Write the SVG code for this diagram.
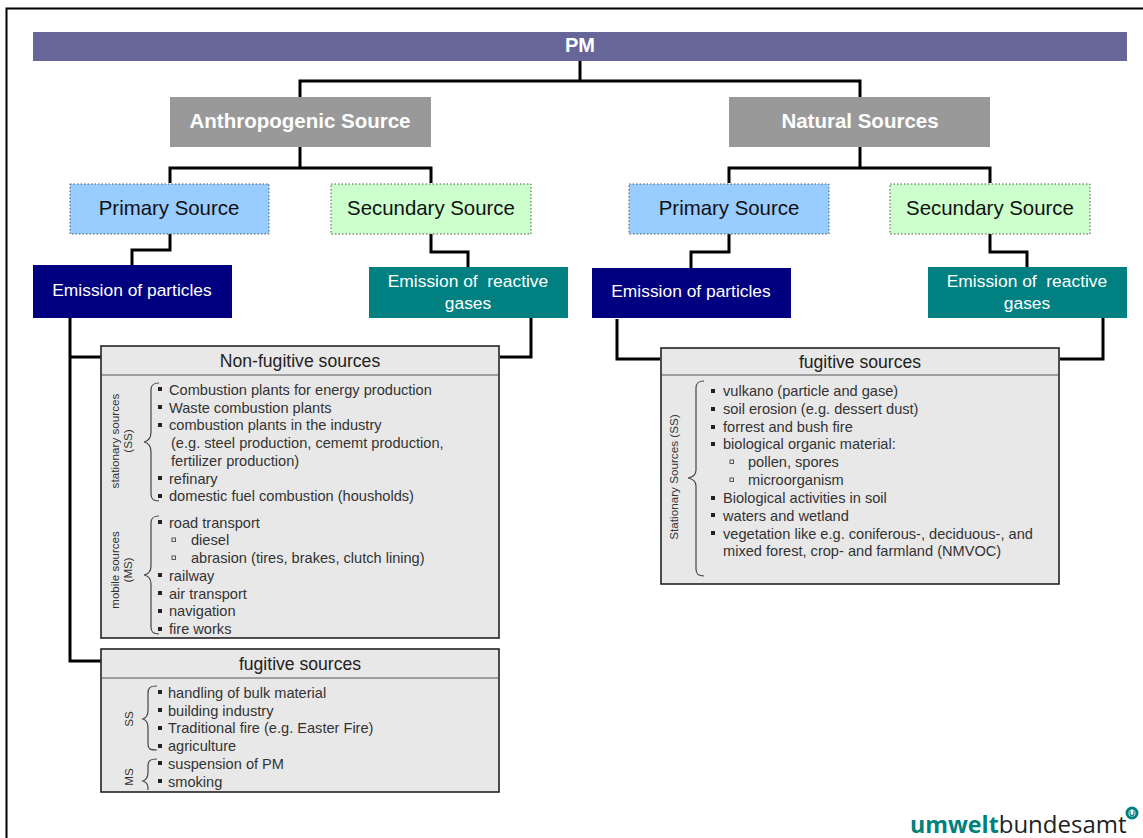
<svg xmlns="http://www.w3.org/2000/svg" width="1143" height="838" viewBox="0 0 1143 838">
<style>
text{font-family:"Liberation Sans",Arial,sans-serif}
.c{fill:none;stroke:#000;stroke-width:3}
.box{fill:#e8e8e8;stroke:#222;stroke-width:1.6}
.sep{stroke:#555;stroke-width:1.2}
.h{font-size:17.6px;fill:#222;text-anchor:middle}
.t{font-size:14.6px;fill:#333}
.r{font-size:11.7px;fill:#333;text-anchor:middle}
.b{fill:#222}
.o{fill:none;stroke:#555;stroke-width:1}
.br{fill:none;stroke:#444;stroke-width:1.2}
.w{fill:#fff;text-anchor:middle}
.src{font-size:20.4px;fill:#111;text-anchor:middle}
.em{font-size:17.4px;fill:#fff;text-anchor:middle}
.grey{fill:#999}
.blue{fill:#99ccff;stroke:#555;stroke-width:1;stroke-dasharray:1.5 2}
.green{fill:#ccffcc;stroke:#555;stroke-width:1;stroke-dasharray:1.5 2}
.navy{fill:#000080}
.teal{fill:#008080}
</style>
<rect width="1143" height="838" fill="#fff"/>
<path id="frame" d="M6.500 838V8.500H1143" fill="none" stroke="#000" stroke-width="2"/>
<g id="connectors">
<path class="c" d="M580 61V81M300 97V81H860V97"/>
<path class="c" d="M300 147V168M170 183V168H431V183"/>
<path class="c" d="M860 147V168M729 183V168H990V183"/>
<path class="c" d="M170 234V250H132V265"/>
<path class="c" d="M431 234V252H468V267"/>
<path class="c" d="M729 234V252H691V268"/>
<path class="c" d="M990 234V252H1027V267"/>
<path class="c" d="M70 318V661H101M70 357H101"/>
<path class="c" d="M531 318V357H500"/>
<path class="c" d="M617 319V359H660"/>
<path class="c" d="M1103 318V359H1060"/>
</g>
<g id="pm"><rect x="33" y="32" width="1094" height="29" fill="#666699"/><text class="w" x="580" y="51.500" font-size="20" font-weight="bold">PM</text></g>
<g id="anthropogenic"><rect class="grey" x="170" y="97" width="261" height="50"/><text class="w" x="300" y="128" font-size="20.500" font-weight="bold">Anthropogenic Source</text></g>
<g id="natural"><rect class="grey" x="729" y="97" width="261" height="50"/><text class="w" x="860" y="128" font-size="20.500" font-weight="bold">Natural Sources</text></g>
<g id="primary-a"><rect class="blue" x="70" y="184" width="199" height="50"/><text class="src" x="169" y="215">Primary Source</text></g>
<g id="secondary-a"><rect class="green" x="331" y="184" width="200" height="50"/><text class="src" x="431" y="215">Secundary Source</text></g>
<g id="primary-n"><rect class="blue" x="629" y="184" width="200" height="50"/><text class="src" x="729" y="215">Primary Source</text></g>
<g id="secondary-n"><rect class="green" x="890" y="184" width="200" height="50"/><text class="src" x="990" y="215">Secundary Source</text></g>
<g id="emission-a"><rect class="navy" x="33" y="265" width="199" height="53"/><text class="em" x="132" y="296">Emission of particles</text></g>
<g id="gases-a"><rect class="teal" x="369" y="267" width="199" height="51"/><text class="em" x="468" y="287" xml:space="preserve">Emission of  reactive</text><text class="em" x="468" y="309">gases</text></g>
<g id="emission-n"><rect class="navy" x="592" y="268" width="199" height="50"/><text class="em" x="691" y="297">Emission of particles</text></g>
<g id="gases-n"><rect class="teal" x="928" y="267" width="199" height="51"/><text class="em" x="1027" y="287" xml:space="preserve">Emission of  reactive</text><text class="em" x="1027" y="309">gases</text></g>

<g id="non-fugitive">
<rect class="box" x="101" y="346" width="398" height="292"/>
<line class="sep" x1="101" y1="375" x2="499" y2="375"/>
<text class="h" x="300" y="367">Non-fugitive sources</text>
<text class="r" transform="translate(119,441) rotate(-90)">stationary sources</text>
<text class="r" transform="translate(132,441) rotate(-90)">(SS)</text>
<path class="br" d="M159 383C153 383 151 385 151 390V432C151 438 149 441 144 442C149 443 151 446 151 452V494C151 499 153 501 159 501"/>
<text class="r" transform="translate(119,570) rotate(-90)" style="font-size:11.500px">mobile sources</text>
<text class="r" transform="translate(132,570) rotate(-90)" style="font-size:11.500px">(MS)</text>
<path class="br" d="M159 516C153 516 151 518 151 523V566C151 571 149 574 144 575C149 576 151 579 151 584V627C151 632 153 634 159 634"/>
<g class="b">
<rect x="158" y="387" width="4" height="4"/><rect x="158" y="405" width="4" height="4"/><rect x="158" y="423" width="4" height="4"/><rect x="158" y="476" width="4" height="4"/><rect x="158" y="494" width="4" height="4"/>
<rect x="158" y="520" width="4" height="4"/><rect x="158" y="573" width="4" height="4"/><rect x="158" y="591" width="4" height="4"/><rect x="158" y="609" width="4" height="4"/><rect x="158" y="627" width="4" height="4"/>
</g>
<rect class="o" x="172" y="538" width="3.500" height="3.500"/><rect class="o" x="172" y="556" width="3.500" height="3.500"/>
<text class="t" x="169" y="394.500">Combustion plants for energy production</text>
<text class="t" x="169" y="412.500">Waste combustion plants</text>
<text class="t" x="169" y="430">combustion plants in the industry</text>
<text class="t" x="171" y="448">(e.g. steel production, cememt production,</text>
<text class="t" x="171" y="465.500">fertilizer production)</text>
<text class="t" x="169" y="483.500">refinary</text>
<text class="t" x="169" y="501">domestic fuel combustion (housholds)</text>
<text class="t" x="169" y="527.500">road transport</text>
<text class="t" x="191" y="545">diesel</text>
<text class="t" x="191" y="562.500">abrasion (tires, brakes, clutch lining)</text>
<text class="t" x="169" y="580.500">railway</text>
<text class="t" x="169" y="598.500">air transport</text>
<text class="t" x="169" y="616">navigation</text>
<text class="t" x="169" y="634">fire works</text>
</g>

<g id="fugitive-a">
<rect class="box" x="101" y="649" width="398" height="143"/>
<line class="sep" x1="101" y1="678" x2="499" y2="678"/>
<text class="h" x="300" y="670">fugitive sources</text>
<text class="r" transform="translate(133,719) rotate(-90)">SS</text>
<path class="br" d="M157 686C150 686 148 688 148 693V710C148 715 146 718 143 719C146 720 148 723 148 728V744C148 749 150 750 157 750"/>
<text class="r" transform="translate(133,777) rotate(-90)">MS</text>
<path class="br" d="M157 759C150 759 148 761 148 766V772C148 777 146 780 143 781C146 782 148 785 148 788V790"/>
<g class="b">
<rect x="158" y="690" width="4" height="4"/><rect x="158" y="708" width="4" height="4"/><rect x="158" y="726" width="4" height="4"/><rect x="158" y="744" width="4" height="4"/><rect x="158" y="761" width="4" height="4"/><rect x="158" y="779" width="4" height="4"/>
</g>
<text class="t" x="168" y="697.500">handling of bulk material</text>
<text class="t" x="168" y="715.500">building industry</text>
<text class="t" x="168" y="733">Traditional fire (e.g. Easter Fire)</text>
<text class="t" x="168" y="751">agriculture</text>
<text class="t" x="168" y="768.500">suspension of PM</text>
<text class="t" x="168" y="786.500">smoking</text>
</g>

<g id="fugitive-n">
<rect class="box" x="661" y="348" width="398" height="236"/>
<line class="sep" x1="661" y1="375" x2="1059" y2="375"/>
<text class="h" x="860" y="368">fugitive sources</text>
<text class="r" transform="translate(678,477) rotate(-90)">Stationary Sources (SS)</text>
<path class="br" d="M704 381C698 381 696 383 696 388V470C696 475 693 477 688 478C693 479 696 481 696 486V569C696 574 698 576 704 576"/>
<g class="b">
<rect x="711" y="389" width="4" height="4"/><rect x="711" y="407" width="4" height="4"/><rect x="711" y="425" width="4" height="4"/><rect x="711" y="442" width="4" height="4"/><rect x="711" y="496" width="4" height="4"/><rect x="711" y="513" width="4" height="4"/><rect x="711" y="531" width="4" height="4"/>
</g>
<rect class="o" x="730" y="460" width="3.500" height="3.500"/><rect class="o" x="730" y="478" width="3.500" height="3.500"/>
<text class="t" x="723" y="396">vulkano (particle and gase)</text>
<text class="t" x="723" y="414">soil erosion (e.g. dessert dust)</text>
<text class="t" x="723" y="431.500">forrest and bush fire</text>
<text class="t" x="723" y="449">biological organic material:</text>
<text class="t" x="748" y="467">pollen, spores</text>
<text class="t" x="748" y="485">microorganism</text>
<text class="t" x="723" y="503">Biological activities in soil</text>
<text class="t" x="723" y="520.500">waters and wetland</text>
<text class="t" x="723" y="538.500">vegetation like e.g. coniferous-, deciduous-, and</text>
<text class="t" x="723" y="556">mixed forest, crop- and farmland (NMVOC)</text>
</g>

<g id="logo">
<text x="910" y="833" style="font-family:'Open Sans',sans-serif"><tspan font-size="23.200" font-weight="bold" fill="#007f7f">umwelt</tspan><tspan font-size="24" fill="#222">bundesamt</tspan></text>
<circle cx="1132" cy="813" r="5" fill="none" stroke="#007f7f" stroke-width="3"/>
<path d="M1130 810.500V813.500a2 2 0 0 0 4 0V810.500" fill="none" stroke="#007f7f" stroke-width="1.200"/>
</g>
</svg>
